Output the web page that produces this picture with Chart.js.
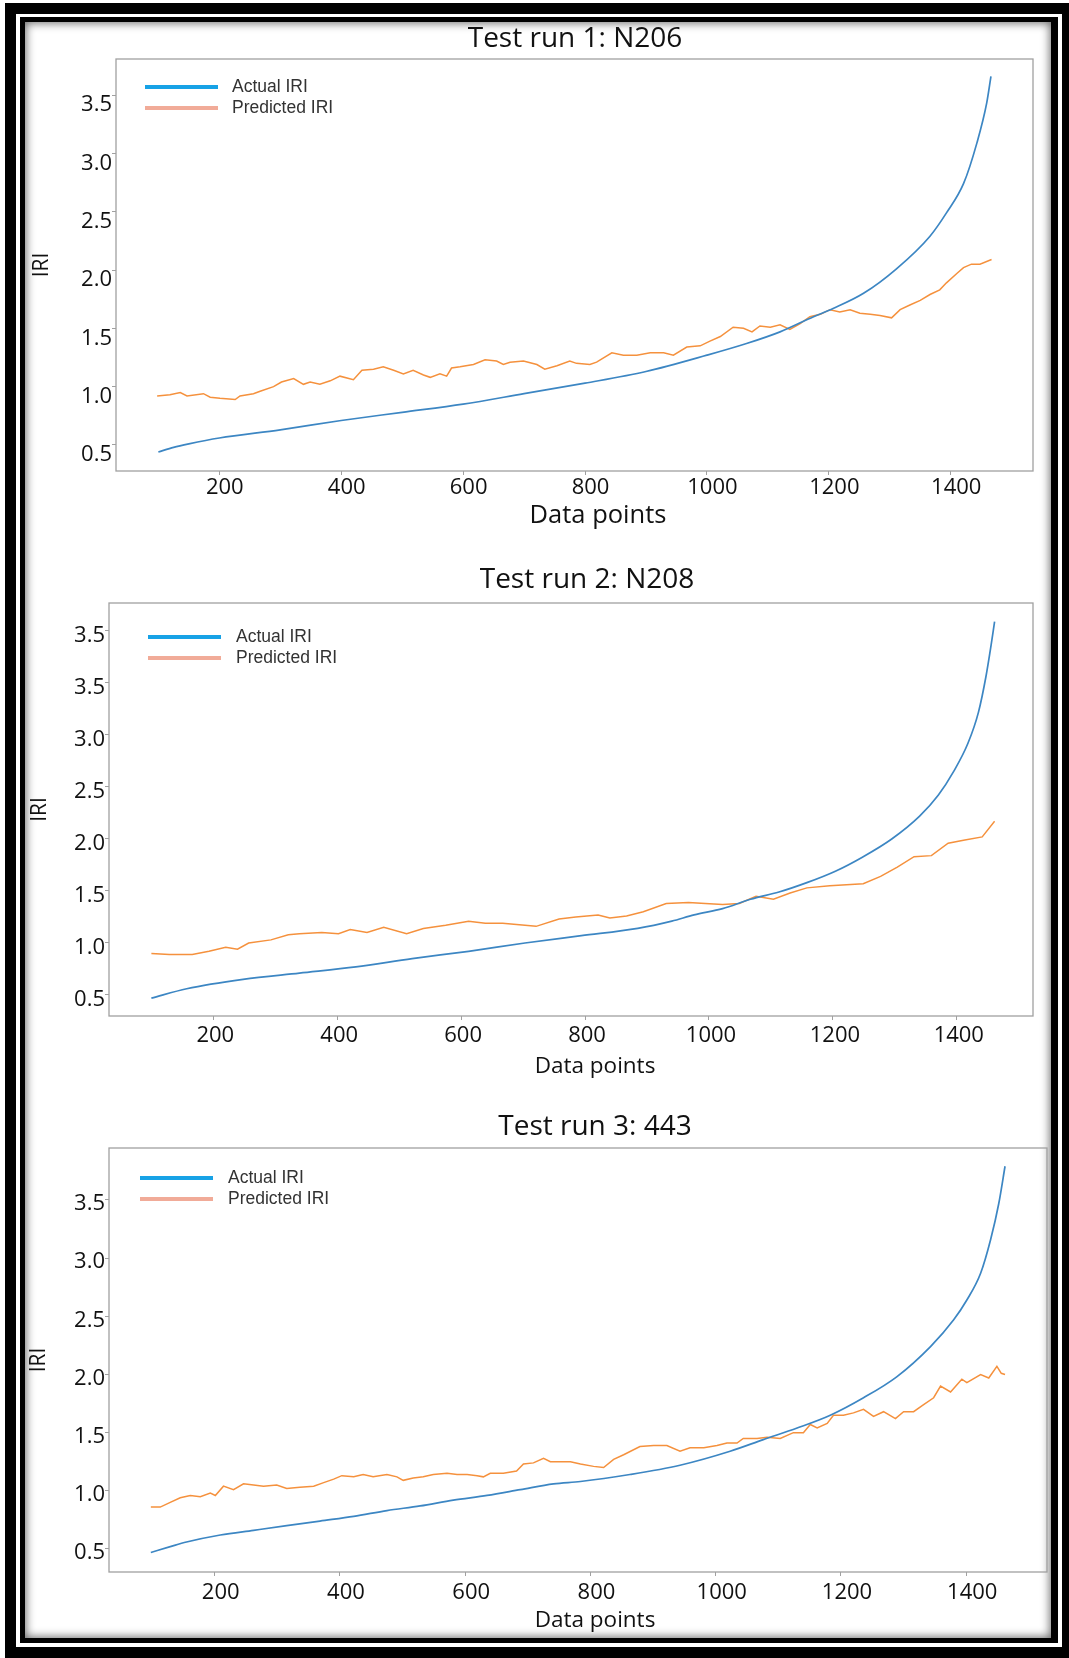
<!DOCTYPE html>
<html>
<head>
<meta charset="utf-8">
<script src="https://cdn.jsdelivr.net/npm/chart.js@4.4.1/dist/chart.umd.min.js"></script>
<style>
  html, body { margin: 0; padding: 0; width: 1069px; height: 1658px; overflow: hidden; background: #fff; }
  .border-outer { position: absolute; left: 5px; top: 3px; width: 1064px; height: 1655px; background: #000; }
  .border-gap { position: absolute; left: 11px; top: 11px; right: 7px; bottom: 11px; background: #fff; }
  .border-inner { position: absolute; left: 4px; top: 3px; right: 4px; bottom: 4px; background: #000; }
  .sheet { position: absolute; left: 5px; top: 5px; right: 7px; bottom: 5px; background: #fff;
           box-shadow: inset 0 0 10px 1px rgba(0, 0, 0, 0.6); }
  canvas { position: absolute; }
</style>
</head>
<body>
<div class="border-outer"><div class="border-gap"><div class="border-inner"><div class="sheet"></div></div></div></div>

<script>
// axis ticks
const xTicks = [200, 400, 600, 800, 1000, 1200, 1400];
const xTickLabels = ['200', '400', '600', '800', '1000', '1200', '1400'];
const yTicks = [0.5, 1.0, 1.5, 2.0, 2.5, 3.0, 3.5];
const yTickLabels = ['0.5', '1.0', '1.5', '2.0', '2.5', '3.0', '3.5'];
const yTicksRun2 = [0.5, 1.0, 1.5, 2.0, 2.5, 3.0, 3.5, 4.0];
const yTickLabelsRun2 = ['0.5', '1.0', '1.5', '2.0', '2.5', '3.0', '3.5', '3.5'];

// Test run 1: N206
const run1ActualX = [100, 125, 150, 200, 300, 400, 500, 600, 700, 800, 900, 1000, 1065, 1120, 1175, 1207, 1257, 1311, 1366, 1393, 1421, 1443, 1459, 1466];
const run1ActualIRI = [0.44, 0.48, 0.51, 0.56, 0.63, 0.71, 0.78, 0.85, 0.94, 1.03, 1.13, 1.27, 1.37, 1.47, 1.60, 1.67, 1.80, 2.01, 2.29, 2.49, 2.74, 3.09, 3.43, 3.66];
const run1PredX = [98, 119, 136, 147, 174, 185, 201, 226, 234, 256, 267, 289, 302, 322, 338, 349, 365, 382, 398, 420,
  434, 453, 469, 486, 502, 518, 535, 546, 562, 573, 581, 595, 617, 636, 655, 666, 677, 699, 721, 734,
  754, 775, 786, 808, 819, 844, 863, 885, 907, 929, 945, 967, 989, 1005, 1022, 1043, 1060, 1074, 1087, 1104,
  1120, 1136, 1153, 1169, 1186, 1202, 1218, 1235, 1251, 1268, 1284, 1303, 1317, 1333, 1350, 1366, 1382, 1393, 1410, 1421,
  1434, 1448, 1467];
const run1PredIRI = [0.92, 0.93, 0.95, 0.92, 0.94, 0.91, 0.90, 0.89, 0.92, 0.94, 0.96, 1.00, 1.04, 1.07, 1.02, 1.04, 1.02, 1.05, 1.09, 1.06,
  1.14, 1.15, 1.17, 1.14, 1.11, 1.14, 1.10, 1.08, 1.11, 1.09, 1.16, 1.17, 1.19, 1.23, 1.22, 1.19, 1.21, 1.22, 1.19, 1.15,
  1.18, 1.22, 1.20, 1.19, 1.21, 1.29, 1.27, 1.27, 1.29, 1.29, 1.27, 1.34, 1.35, 1.39, 1.43, 1.51, 1.50, 1.47, 1.52, 1.51,
  1.53, 1.49, 1.54, 1.60, 1.62, 1.66, 1.64, 1.66, 1.63, 1.62, 1.61, 1.59, 1.66, 1.70, 1.74, 1.79, 1.83, 1.89, 1.97, 2.02,
  2.05, 2.05, 2.09];

// Test run 2: N208
const run2ActualX = [100, 157, 248, 339, 430, 521, 612, 703, 794, 885, 940, 976, 1022, 1067, 1113, 1158, 1204, 1249, 1295, 1340, 1370, 1395, 1418, 1435, 1447, 1455, 1461];
const run2ActualIRI = [0.47, 0.56, 0.65, 0.71, 0.77, 0.85, 0.92, 1.00, 1.07, 1.14, 1.21, 1.27, 1.33, 1.42, 1.49, 1.58, 1.69, 1.83, 2.00, 2.22, 2.42, 2.65, 2.92, 3.22, 3.56, 3.85, 4.09];
const run2PredX = [100, 129, 166, 193, 220, 239, 257, 293, 321, 339, 375, 402, 421, 448, 475, 512, 539, 575, 612, 639,
  667, 703, 721, 758, 785, 821, 840, 867, 894, 931, 967, 994, 1022, 1049, 1076, 1104, 1131, 1158, 1195, 1222,
  1249, 1277, 1304, 1331, 1359, 1386, 1413, 1441, 1461];
const run2PredIRI = [0.90, 0.89, 0.89, 0.92, 0.96, 0.94, 1.00, 1.03, 1.08, 1.09, 1.10, 1.09, 1.13, 1.10, 1.15, 1.09, 1.14, 1.17, 1.21, 1.19,
  1.19, 1.17, 1.16, 1.23, 1.25, 1.27, 1.24, 1.26, 1.30, 1.38, 1.39, 1.38, 1.37, 1.38, 1.45, 1.42, 1.48, 1.53, 1.55, 1.56,
  1.57, 1.64, 1.73, 1.83, 1.84, 1.96, 1.99, 2.02, 2.17];

// Test run 3: 443
const run3ActualX = [98, 129, 155, 209, 262, 315, 368, 422, 475, 528, 581, 635, 688, 741, 784, 863, 943, 1023, 1076, 1130, 1183, 1236, 1289, 1343, 1380, 1401, 1423, 1439, 1452, 1462];
const run3ActualIRI = [0.47, 0.52, 0.56, 0.62, 0.66, 0.70, 0.74, 0.78, 0.83, 0.87, 0.92, 0.96, 1.01, 1.06, 1.08, 1.14, 1.22, 1.34, 1.44, 1.54, 1.65, 1.80, 1.98, 2.24, 2.47, 2.64, 2.87, 3.16, 3.47, 3.79];
const run3PredX = [98, 113, 129, 145, 161, 177, 193, 201, 214, 230, 246, 262, 278, 299, 315, 336, 358, 374, 390, 403,
  422, 437, 453, 475, 491, 501, 517, 533, 549, 571, 587, 603, 619, 629, 640, 661, 682, 693, 709, 725,
  736, 752, 768, 784, 805, 821, 837, 853, 879, 901, 922, 943, 959, 981, 1002, 1018, 1034, 1044, 1066, 1082,
  1103, 1124, 1140, 1151, 1162, 1178, 1188, 1204, 1220, 1236, 1252, 1268, 1287, 1300, 1316, 1332, 1348, 1359, 1375, 1393,
  1401, 1423, 1436, 1449, 1456, 1462];
const run3PredIRI = [0.86, 0.86, 0.90, 0.94, 0.96, 0.95, 0.98, 0.96, 1.04, 1.01, 1.06, 1.05, 1.04, 1.05, 1.02, 1.03, 1.04, 1.07, 1.10, 1.13,
  1.12, 1.14, 1.12, 1.14, 1.12, 1.09, 1.11, 1.12, 1.14, 1.15, 1.14, 1.14, 1.13, 1.12, 1.15, 1.15, 1.17, 1.23, 1.24, 1.28,
  1.25, 1.25, 1.25, 1.23, 1.21, 1.20, 1.27, 1.31, 1.38, 1.39, 1.39, 1.34, 1.37, 1.37, 1.39, 1.41, 1.41, 1.45, 1.45, 1.46,
  1.45, 1.50, 1.50, 1.57, 1.54, 1.58, 1.65, 1.65, 1.67, 1.70, 1.64, 1.68, 1.62, 1.68, 1.68, 1.74, 1.80, 1.90, 1.85, 1.96,
  1.93, 2.00, 1.97, 2.07, 2.01, 2.00];

const toPoints = (xs, ys) => xs.map((x, i) => ({ x, y: ys[i] }));

const runs = [
  { title: 'Test run 1: N206', actual: toPoints(run1ActualX, run1ActualIRI), predicted: toPoints(run1PredX, run1PredIRI),
    yTicks, yTickLabels, xMin: 30.5, xMax: 1535, yMin: 0.277, yMax: 3.809 },
  { title: 'Test run 2: N208', actual: toPoints(run2ActualX, run2ActualIRI), predicted: toPoints(run2PredX, run2PredIRI),
    yTicks: yTicksRun2, yTickLabels: yTickLabelsRun2, xMin: 31.6, xMax: 1523, yMin: 0.298, yMax: 4.269 },
  { title: 'Test run 3: 443', actual: toPoints(run3ActualX, run3ActualIRI), predicted: toPoints(run3PredX, run3PredIRI),
    yTicks, yTickLabels, xMin: 31.2, xMax: 1529, yMin: 0.302, yMax: 3.947 },
];

// where each panel sits on the page
const layouts = [
  { title: [575, 39], xTitle: [598, 516], xTitleSize: 25.5, yTitleX: 42,
    plot: { left: 116, top: 59, right: 1033, bottom: 471 }, xTickPad: 0, xLabelShift: 5.5, yLabelShift: 10,
    legend: { dx: 29, dy: 28, textDx: 87 } },
  { title: [587, 580], xTitle: [595, 1067], xTitleSize: 22.5, yTitleX: 40,
    plot: { left: 109, top: 603, right: 1033, bottom: 1016 }, xTickPad: 3, xLabelShift: 2, yLabelShift: 5,
    legend: { dx: 39, dy: 34, textDx: 88 } },
  { title: [595, 1127], xTitle: [595, 1621], xTitleSize: 22.5, yTitleX: 39,
    plot: { left: 109, top: 1148, right: 1047, bottom: 1572 }, xTickPad: 4, xLabelShift: 6, yLabelShift: 4,
    legend: { dx: 31, dy: 30, textDx: 88 } },
];

const FONT = 'Open Sans';
const TEXT = '#111';
const AXIS = '#a0a0a0';

// grey box round the plot area
const plotFrame = {
  id: 'plotFrame',
  beforeDatasetsDraw(chart) {
    const { ctx, chartArea: a } = chart;
    ctx.save();
    ctx.strokeStyle = AXIS;
    ctx.lineWidth = 1.3;
    ctx.strokeRect(a.left, a.top, a.width, a.height);
    ctx.restore();
  }
};

// line-sample legend in the upper left of the plot
const lineLegend = {
  id: 'lineLegend',
  afterDraw(chart, args, opts) {
    const { ctx, chartArea: a } = chart;
    const x = a.left + opts.dx;
    chart.data.datasets.forEach((ds, i) => {
      const y = a.top + opts.dy + i * 21;
      ctx.save();
      ctx.strokeStyle = ds.legendColor;
      ctx.lineWidth = 4;
      ctx.beginPath();
      ctx.moveTo(x, y);
      ctx.lineTo(x + 73, y);
      ctx.stroke();
      ctx.fillStyle = '#333';
      ctx.font = '17.5px "Liberation Sans"';
      ctx.textBaseline = 'middle';
      ctx.fillText(ds.label, x + opts.textDx, y);
      ctx.restore();
    });
  }
};

// panel title above the plot and the x-axis caption below it
const captions = {
  id: 'captions',
  afterDraw(chart, args, opts) {
    const { ctx } = chart;
    ctx.save();
    ctx.fillStyle = TEXT;
    ctx.textAlign = 'center';
    ctx.textBaseline = 'middle';
    ctx.font = `28px "${FONT}"`;
    ctx.fillText(opts.title, opts.titleX, opts.titleY);
    ctx.font = `${opts.xTitleSize}px "${FONT}"`;
    ctx.fillText('Data points', opts.xTitleX, opts.xTitleY);
    ctx.restore();
  }
};

function makePanel(run, lay) {
  const left = 20, right = 1050;
  const top = lay.title[1] - 24;
  const bottom = lay.xTitle[1] + 20;
  const xAxisHeight = 36;

  const canvas = document.createElement('canvas');
  canvas.width = right - left;
  canvas.height = bottom - top;
  canvas.style.left = left + 'px';
  canvas.style.top = top + 'px';
  document.body.appendChild(canvas);

  const tickFont = { family: FONT, size: 22 };

  new Chart(canvas, {
    type: 'line',
    data: {
      datasets: [
        { label: 'Actual IRI', data: run.actual, borderColor: '#3c86c3', borderWidth: 1.7,
          pointRadius: 0, cubicInterpolationMode: 'monotone', legendColor: '#17a2e6' },
        { label: 'Predicted IRI', data: run.predicted, borderColor: '#f5913d', borderWidth: 1.5,
          pointRadius: 0, tension: 0, legendColor: '#f1ab98' },
      ]
    },
    options: {
      responsive: false,
      animation: false,
      events: [],
      layout: {
        padding: {
          left: 0,
          top: lay.plot.top - top,
          right: right - lay.plot.right,
          bottom: bottom - lay.plot.bottom - xAxisHeight
        }
      },
      plugins: {
        legend: { display: false },
        tooltip: { enabled: false },
        lineLegend: lay.legend,
        captions: {
          title: run.title, titleX: lay.title[0] - left, titleY: lay.title[1] - top,
          xTitleX: lay.xTitle[0] - left, xTitleY: lay.xTitle[1] - top, xTitleSize: lay.xTitleSize
        }
      },
      scales: {
        x: {
          type: 'linear', min: run.xMin, max: run.xMax,
          afterBuildTicks: s => { s.ticks = xTicks.map(v => ({ value: v })); },
          afterFit: s => { s.height = xAxisHeight; },
          ticks: { callback: v => xTickLabels[xTicks.indexOf(v)], font: tickFont, color: TEXT,
                   padding: lay.xTickPad, labelOffset: lay.xLabelShift, maxRotation: 0, autoSkip: false },
          grid: { drawOnChartArea: false, drawTicks: true, tickLength: 4, tickColor: AXIS },
          border: { display: false }
        },
        y: {
          type: 'linear', min: run.yMin, max: run.yMax,
          afterBuildTicks: s => { s.ticks = run.yTicks.map(v => ({ value: v })); },
          afterFit: s => { s.width = lay.plot.left - left; },
          ticks: { callback: v => run.yTickLabels[run.yTicks.indexOf(v)], font: tickFont, color: TEXT,
                   padding: 0, labelOffset: lay.yLabelShift, autoSkip: false },
          grid: { drawOnChartArea: false, drawTicks: true, tickLength: 4, tickColor: AXIS },
          border: { display: false },
          title: { display: true, text: 'IRI', color: TEXT, font: { family: FONT, size: 21, lineHeight: 1.2 },
                   padding: { top: lay.yTitleX - left - 21 * 0.6, bottom: 0 } }
        }
      }
    },
    plugins: [plotFrame, lineLegend, captions]
  });
}

runs.forEach((run, i) => makePanel(run, layouts[i]));
</script>
</body>
</html>
